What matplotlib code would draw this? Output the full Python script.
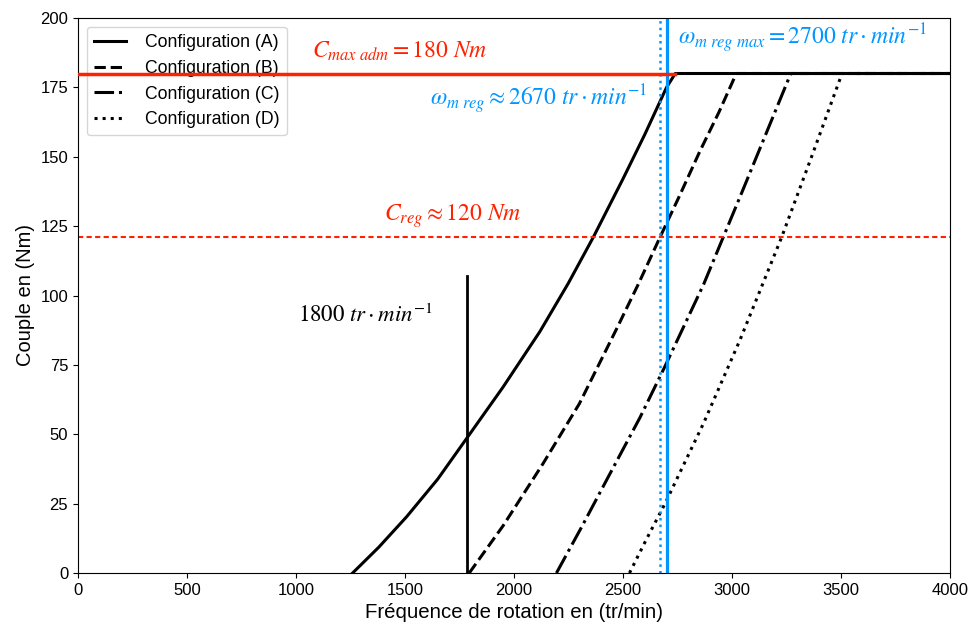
import matplotlib
matplotlib.use('Agg')
import matplotlib.pyplot as plt

plt.rcParams['font.family'] = ['Liberation Sans', 'DejaVu Sans']
plt.rcParams['mathtext.fontset'] = 'stix'

# points (tr/min, Nm)
a_x = [1260, 1380, 1508, 1650, 1783, 1950, 2119, 2250, 2364, 2500, 2600, 2700, 2740, 4000]
a_y = [0, 9.3, 20.3, 33.8, 48.5, 67, 87, 104.5, 121, 142, 158, 175, 180, 180]
b_x = [1795, 1950, 2134, 2300, 2471, 2570, 2670, 2760, 2853, 2940, 3020, 4000]
b_y = [0, 17, 39.5, 61, 88, 104, 121, 136, 152, 166, 180, 180]
c_x = [2195, 2310, 2425, 2578, 2693, 2777, 2870, 2960, 3050, 3160, 3270, 4000]
c_y = [0, 16.5, 33.5, 56, 74.5, 88.5, 104, 121, 138, 159, 180, 180]
d_x = [2530, 2610, 2693, 2870, 3037, 3130, 3228, 3370, 3505, 4000]
d_y = [0, 12.5, 25, 54, 84, 102, 121, 151, 180, 180]

c_max = 180
c_max_end = 2740
c_reg = 121
w_reg = 2670
w_reg_max = 2700
w_1800 = 1785
h_1800 = 107

red = '#ff2200'
blue = '#0095ff'

fig = plt.figure(figsize=(9.71, 6.25), dpi=100)
ax = fig.add_axes([0.0803, 0.0832, 0.898, 0.888])

ax.plot(a_x, a_y, color='black', lw=2.2, ls='-', label='Configuration (A)')
ax.plot(b_x, b_y, color='black', lw=2.2, ls='--', label='Configuration (B)')
ax.plot(c_x, c_y, color='black', lw=2.2, ls='-.', label='Configuration (C)')
ax.plot(d_x, d_y, color='black', lw=2.2, ls=':', label='Configuration (D)')

ax.plot([0, c_max_end], [c_max, c_max], color=red, lw=2.5, zorder=10)
ax.axhline(c_reg, color=red, lw=1.5, dashes=(2.5, 1.6))
ax.axvline(w_reg_max, color=blue, lw=2.3)
ax.axvline(w_reg, color=blue, lw=1.8, ls=':')
ax.plot([w_1800, w_1800], [0, h_1800], color='black', lw=2)

fs = 17
ax.text(1073, 188, r'$C_{max\ adm} = 180\ Nm$', color=red, fontsize=fs, va='center')
ax.text(2752, 192.5, r'$\omega_{m\ reg\ max} = 2700\ tr \cdot min^{-1}$', color=blue, fontsize=fs, va='center')
ax.text(1615, 170.5, r'$\omega_{m\ reg} \approx 2670\ tr \cdot min^{-1}$', color=blue, fontsize=fs, va='center')
ax.text(1404, 128.5, r'$C_{reg} \approx 120\ Nm$', color=red, fontsize=fs, va='center')
ax.text(1009, 93, r'$1800\ tr \cdot min^{-1}$', color='black', fontsize=16.5, va='center')

ax.set_xlim(0, 4000)
ax.set_ylim(0, 200)
ax.set_xticks(range(0, 4001, 500))
ax.set_yticks(range(0, 201, 25))
ax.tick_params(labelsize=12)
ax.set_xlabel('Fréquence de rotation en (tr/min)', fontsize=14.7)
ax.set_ylabel('Couple en (Nm)', fontsize=14.5)
ax.legend(loc='upper left', fontsize=12.7, handlelength=1.8, handletextpad=1.1)

fig.savefig('out.png', dpi=100)
